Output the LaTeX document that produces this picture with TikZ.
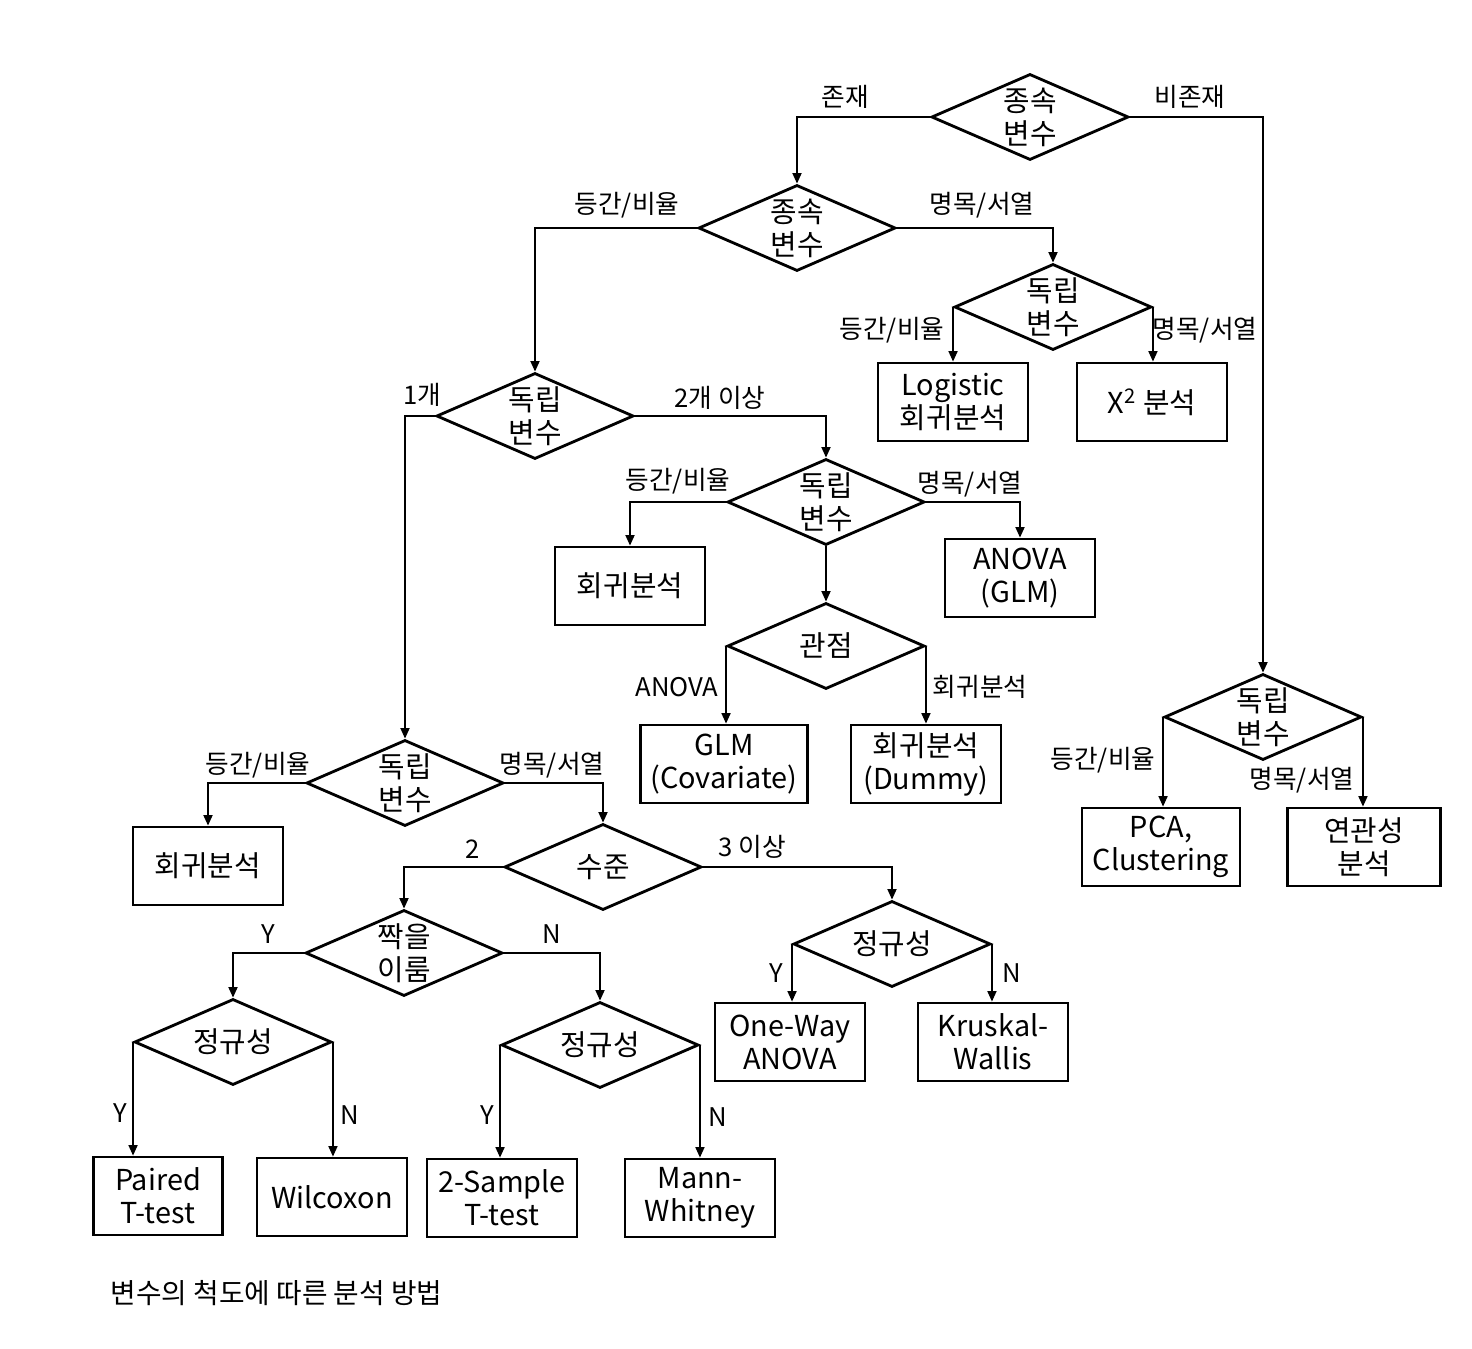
\documentclass[tikz,border=0pt]{standalone}
\usepackage{fontspec}
\setmainfont{Noto Sans CJK KR}
\usetikzlibrary{shapes.geometric,arrows.meta,positioning}

\tikzset{
  decision/.style={diamond, draw, line width=0.8pt, aspect=2.3, inner sep=0pt,
    minimum width=1.97cm, minimum height=0.86cm, align=center,
    font=\fontsize{8.2}{9.4}\selectfont},
  result/.style={rectangle, draw, line width=0.8pt, minimum width=1.5cm,
    minimum height=0.78cm, inner sep=1pt, align=center,
    font=\fontsize{8.2}{9.4}\selectfont},
  lab/.style={inner sep=0pt, font=\fontsize{7.3}{8}\selectfont},
  arr/.style={-{Triangle[length=3pt,width=2.6pt]}, line width=0.4pt},
}

\begin{document}
\begin{tikzpicture}[x=0.01cm, y=-0.01cm]
    \useasboundingbox (0,0) rectangle (1472,1349);

    % Diamonds
    \node[decision] (dep1) at (1030,117) {종속\\변수};
    \node[decision] (dep2) at (797,228) {종속\\변수};
    \node[decision] (ind1) at (1053,307) {독립\\변수};
    \node[decision] (ind2) at (535,416) {독립\\변수};
    \node[decision] (ind3) at (826,502) {독립\\변수};
    \node[decision] (view) at (826,646) {관점};
    \node[decision] (ind4) at (1263,717) {독립\\변수};
    \node[decision] (ind5) at (405,783) {독립\\변수};
    \node[decision] (level) at (603,867) {수준};
    \node[decision] (pair) at (404,953) {짝을\\이룸};
    \node[decision] (norm1) at (892,944) {정규성};
    \node[decision] (norm2) at (233,1042) {정규성};
    \node[decision] (norm3) at (600,1045) {정규성};

    % Boxes
    \node[result] (logit) at (953,402) {Logistic\\회귀분석};
    \node[result] (chisq) at (1152,402) {X\textsuperscript{2} 분석};
    \node[result] (reg1) at (630,586) {회귀분석};
    \node[result] (anovaglm) at (1020,578) {ANOVA\\(GLM)};
    \node[result, minimum width=1.67cm] (glmcov) at (724,764) {GLM\\(Covariate)};
    \node[result] (regdummy) at (926,764) {회귀분석\\(Dummy)};
    \node[result, minimum width=1.58cm] (pca) at (1161,847) {PCA,\\Clustering};
    \node[result, minimum width=1.53cm] (assoc) at (1364,847) {연관성\\분석};
    \node[result] (reg2) at (208,866) {회귀분석};
    \node[result] (oneway) at (790,1042) {One-Way\\ANOVA};
    \node[result] (kruskal) at (993,1042) {Kruskal-\\Wallis};
    \node[result, minimum width=1.29cm] (paired) at (158,1196) {Paired\\T-test};
    \node[result] (wilcox) at (332,1197) {Wilcoxon};
    \node[result] (twosample) at (502,1198) {2-Sample\\T-test};
    \node[result] (mann) at (700,1198) {Mann-\\Whitney};

    % Arrows
    \draw[arr] (dep1.west) -| (dep2.north);
    \draw[arr] (dep1.east) -| (ind4.north);
    \draw[arr] (dep2.west) -| (ind2.north);
    \draw[arr] (dep2.east) -| (ind1.north);
    \draw[arr] (ind1.west) -- (ind1.west |- logit.north);
    \draw[arr] (ind1.east) -- (ind1.east |- chisq.north);
    \draw[arr] (ind2.west) -| (ind5.north);
    \draw[arr] (ind2.east) -| (ind3.north);
    \draw[arr] (ind3.west) -| (reg1.north);
    \draw[arr] (ind3.east) -| (anovaglm.north);
    \draw[arr] (ind3.south) -- (view.north);
    \draw[arr] (view.west) -- (view.west |- glmcov.north);
    \draw[arr] (view.east) -- (view.east |- regdummy.north);
    \draw[arr] (ind4.west) -- (ind4.west |- pca.north);
    \draw[arr] (ind4.east) -- (ind4.east |- assoc.north);
    \draw[arr] (ind5.west) -| (reg2.north);
    \draw[arr] (ind5.east) -| (level.north);
    \draw[arr] (level.west) -| (pair.north);
    \draw[arr] (level.east) -| (norm1.north);
    \draw[arr] (pair.west) -| (norm2.north);
    \draw[arr] (pair.east) -| (norm3.north);
    \draw[arr] (norm1.west) -- (norm1.west |- oneway.north);
    \draw[arr] (norm1.east) -- (norm1.east |- kruskal.north);
    \draw[arr] (norm2.west) -- (norm2.west |- paired.north);
    \draw[arr] (norm2.east) -- (norm2.east |- wilcox.north);
    \draw[arr] (norm3.west) -- (norm3.west |- twosample.north);
    \draw[arr] (norm3.east) -- (norm3.east |- mann.north);

    % Labels
    \node[lab] (l1) at (845,97) {존재};
    \node[lab] (l2) at (1190,97) {비존재};
    \node[lab] (l3) at (627,205) {등간/비율};
    \node[lab] (l4) at (982,205) {명목/서열};
    \node[lab] (l5) at (892,330) {등간/비율};
    \node[lab] (l6) at (1205,330) {명목/서열};
    \node[lab] (l7) at (422,395) {1개};
    \node[lab] (l8) at (720,398) {2개 이상};
    \node[lab] (l9) at (678,481) {등간/비율};
    \node[lab] (l10) at (970,484) {명목/서열};
    \node[lab] (l11) at (677,687) {ANOVA};
    \node[lab] (l12) at (980,687) {회귀분석};
    \node[lab] (l13) at (1103,760) {등간/비율};
    \node[lab] (l14) at (1302,780) {명목/서열};
    \node[lab] (l15) at (258,765) {등간/비율};
    \node[lab] (l16) at (552,765) {명목/서열};
    \node[lab] (l17) at (473,849) {2};
    \node[lab] (l18) at (752,847) {3 이상};
    \node[lab] (l19) at (268,934) {Y};
    \node[lab] (l20) at (552,934) {N};
    \node[lab] (l21) at (776,973) {Y};
    \node[lab] (l22) at (1012,973) {N};
    \node[lab] (l23) at (120,1113) {Y};
    \node[lab] (l24) at (350,1115) {N};
    \node[lab] (l25) at (487,1115) {Y};
    \node[lab] (l26) at (718,1117) {N};

    % Caption
    \node[lab, anchor=west, font=\fontsize{7.9}{9}\selectfont] (caption) at (110,1293) {변수의 척도에 따른 분석 방법};
\end{tikzpicture}
\end{document}
